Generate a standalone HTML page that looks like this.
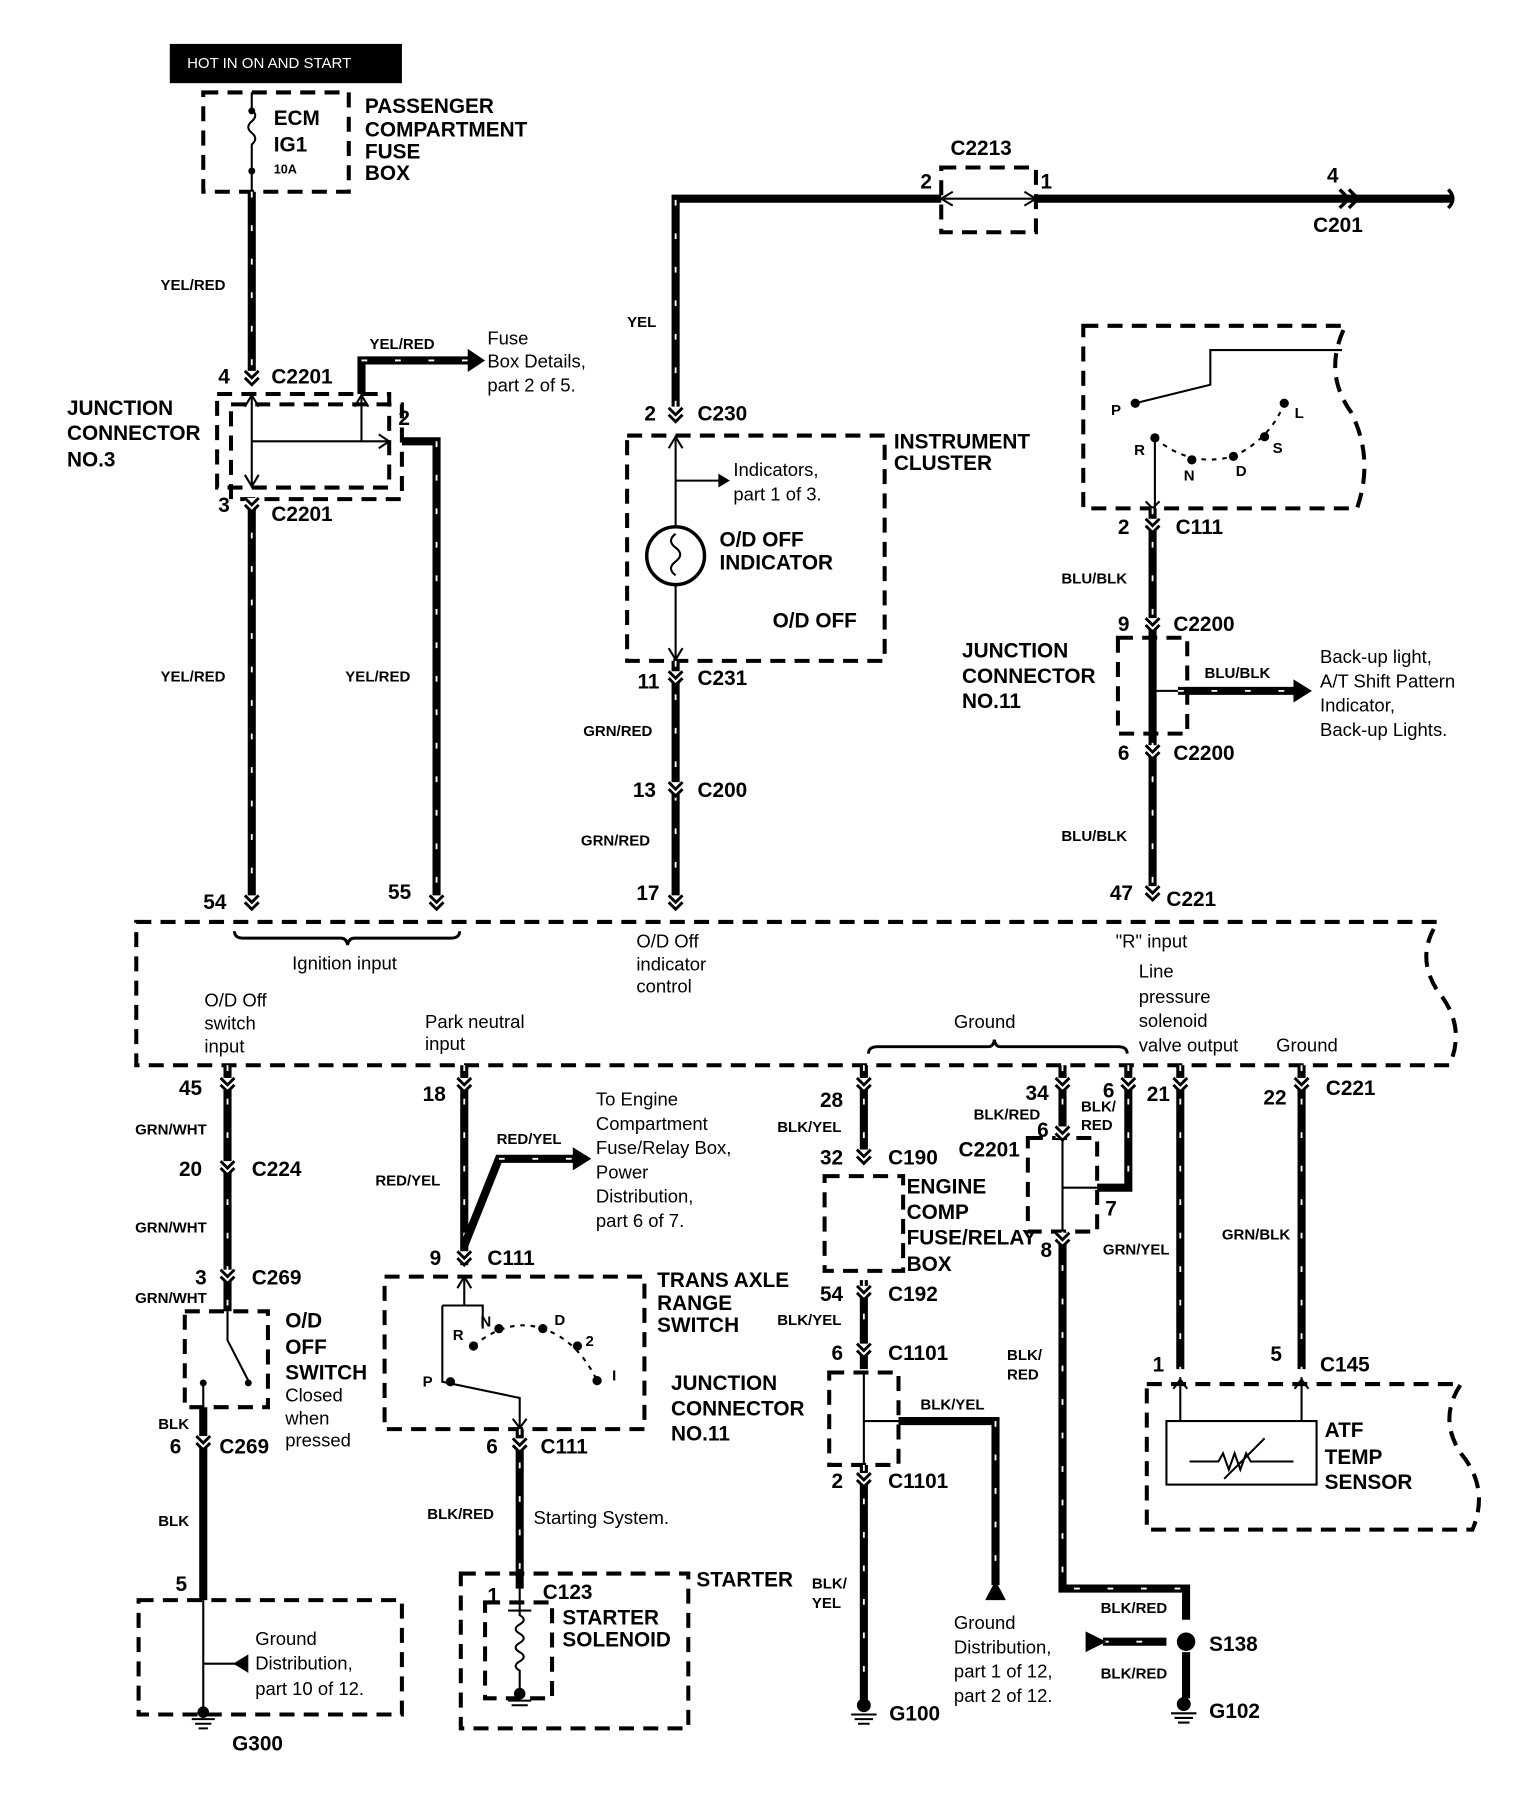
<!DOCTYPE html>
<html><head><meta charset="utf-8"><style>
html,body{margin:0;padding:0;background:#fff}
svg{display:block}
.w{stroke:#000;stroke-width:7;fill:none}
.h{stroke:#fff;stroke-width:1.6;stroke-dasharray:5 24;fill:none}
.t{stroke:#000;stroke-width:1.8;fill:none}
.d{stroke:#000;stroke-width:3.5;stroke-dasharray:13 8;fill:none}
text{font-family:"Liberation Sans",sans-serif;fill:#000}
.b{font-size:18px;font-weight:bold}
.s{font-size:13px;font-weight:bold}
.n{font-size:16px}
</style></head><body>
<svg width="1536" height="1800" viewBox="0 0 1330 1558" preserveAspectRatio="none" xmlns="http://www.w3.org/2000/svg">
<defs>
<g id="cn"><rect x="-6" y="-5" width="12" height="10" fill="#fff"/><path d="M-6,-5 L0,1 L6,-5 M-6,1 L0,7 L6,1" stroke="#000" stroke-width="2.5" fill="none"/></g>
</defs>
<rect width="1330" height="1558" fill="#fff"/>
<!-- top hot -->
<rect x="147" y="38" width="201" height="34" fill="#000"/>
<text x="162" y="59" fill="#fff" style="fill:#fff;font-size:13px">HOT IN ON AND START</text>
<rect class="d" x="176" y="80" width="126" height="86"/>
<path class="t" d="M218,80 V95 q6,5 0,10 q-6,5 0,10 q6,5 0,10 V166"/>
<circle cx="218" cy="96" r="3"/><circle cx="218" cy="148" r="3"/>
<text class="b" x="237" y="108">ECM</text><text class="b" x="237" y="131">IG1</text><text class="s" x="237" y="150" style="font-size:11px">10A</text>
<text class="b" x="316" y="98">PASSENGER</text><text class="b" x="316" y="118">COMPARTMENT</text><text class="b" x="316" y="137">FUSE</text><text class="b" x="316" y="156">BOX</text>
<g><path class="w" d="M218,166 V322"/><path class="h" d="M218,166 V322"/></g>
<text class="s" x="139" y="251">YEL/RED</text>
<text class="b" x="189" y="332">4</text><text class="b" x="235" y="332">C2201</text>
<rect class="d" x="188" y="341" width="149" height="81"/>
<rect class="d" x="200" y="350" width="148" height="82"/>
<path class="t" d="M218,341 V422 M218,382 H337 M313,341 V382" />
<path d="M212,352 L218,342 L224,352 M212,411 L218,421 L224,411 M307,352 L313,342 L319,352 M328,376 L337,382 L328,388" class="t"/>
<g><path class="w" d="M313,341 V312 H410"/><path class="h" d="M313,312 H410"/></g>
<path d="M405,302 L420,312 L405,322z"/>
<text class="s" x="320" y="302">YEL/RED</text>
<text class="n" x="422" y="298">Fuse</text><text class="n" x="422" y="318">Box Details,</text><text class="n" x="422" y="339">part 2 of 5.</text>
<text class="b" x="345" y="368">2</text>
<g><path class="w" d="M348,382 H378 V785"/><path class="h" d="M378,382 V785"/></g>
<text class="b" x="58" y="359">JUNCTION</text><text class="b" x="58" y="381">CONNECTOR</text><text class="b" x="58" y="404">NO.3</text>
<text class="b" x="189" y="443">3</text><text class="b" x="235" y="451">C2201</text>
<g><path class="w" d="M218,432 V785"/><path class="h" d="M218,432 V785"/></g>
<text class="s" x="139" y="590">YEL/RED</text><text class="s" x="299" y="590">YEL/RED</text>
<text class="b" x="176" y="787">54</text><text class="b" x="336" y="778">55</text>
<!-- ECM box -->
<path class="d" d="M118,798 H1245 q-20,30 0,60 q25,30 10,64 H118 Z"/>
<path class="t" style="stroke-width:2.5" d="M203,806 q0,6 8,6 H295 q5,0 6,6 q1,-6 6,-6 H390 q8,0 8,-6"/>
<text class="n" x="253" y="839">Ignition input</text>
<text class="n" x="177" y="871">O/D Off</text><text class="n" x="177" y="891">switch</text><text class="n" x="177" y="911">input</text>
<text class="n" x="368" y="890">Park neutral</text><text class="n" x="368" y="909">input</text>
<text class="n" x="551" y="820">O/D Off</text><text class="n" x="551" y="840">indicator</text><text class="n" x="551" y="859">control</text>
<text class="n" x="966" y="820">"R" input</text>
<text class="n" x="986" y="846">Line</text><text class="n" x="986" y="868">pressure</text><text class="n" x="986" y="889">solenoid</text><text class="n" x="986" y="910">valve output</text><text class="n" x="1105" y="910">Ground</text>
<text class="n" x="826" y="890">Ground</text>
<path class="t" style="stroke-width:2.5" d="M752,912 q0,-6 8,-6 H856 q4,0 5,-6 q1,6 5,6 H968 q8,0 8,6"/>
<!-- top YEL -->
<g><path class="w" d="M585,352 V172 H815"/><path class="h" d="M585,352 V172"/></g>
<rect class="d" x="815" y="145" width="82" height="56"/>
<path class="t" d="M815,172 H897"/><path class="t" d="M825,166 L815,172 L825,178 M887,166 L897,172 L887,178"/>
<path class="w" d="M897,172 H1258"/>
<path class="t" style="stroke-width:3" d="M1160,164 L1168,172 L1160,180 M1168,164 L1176,172 L1168,180 M1254,164 Q1262,172 1254,180"/>
<text class="b" x="823" y="134">C2213</text><text class="b" x="797" y="163">2</text><text class="b" x="901" y="163">1</text>
<text class="b" x="1149" y="158">4</text><text class="b" x="1137" y="201">C201</text>
<text class="s" x="543" y="283">YEL</text>
<text class="b" x="558" y="364">2</text><text class="b" x="604" y="364">C230</text>
<rect class="d" x="543" y="377" width="223" height="195"/>
<path class="t" d="M585,377 V456 M585,506 V572 M585,416 H628"/>
<path d="M622,410 L632,416 L622,422z"/>
<path class="t" d="M579,388 L585,378 L591,388 M579,561 L585,571 L591,561"/>
<circle cx="585" cy="481" r="25" class="t" style="stroke-width:3"/>
<path class="t" d="M585,462 q-8,6 0,12 q8,6 0,12 q-8,6 0,12"/>
<text class="b" x="774" y="388">INSTRUMENT</text><text class="b" x="774" y="407">CLUSTER</text>
<text class="n" x="635" y="412">Indicators,</text><text class="n" x="635" y="433">part 1 of 3.</text>
<text class="b" x="623" y="473">O/D OFF</text><text class="b" x="623" y="493">INDICATOR</text><text class="b" x="669" y="543">O/D OFF</text>
<text class="b" x="552" y="596">11</text><text class="b" x="604" y="593">C231</text>
<g><path class="w" d="M585,572 V785"/><path class="h" d="M585,572 V785"/></g>
<text class="s" x="505" y="637">GRN/RED</text><text class="b" x="548" y="690">13</text><text class="b" x="604" y="690">C200</text>
<text class="s" x="503" y="732">GRN/RED</text><text class="b" x="551" y="779">17</text>
<!-- selector -->
<path class="d" d="M938,282 H1165 q-20,40 5,75 q20,40 5,83 H938 Z"/>
<path class="t" d="M983,349 L1048,333 V303 H1162 M1000,379 V440"/>
<path class="t" d="M992,434 L998,440 L1004,434"/>
<path class="t" style="stroke-dasharray:4 5" d="M1000,379 Q1030,405 1068,395 Q1100,380 1112,349"/>
<circle cx="983" cy="349" r="4"/><circle cx="1000" cy="379" r="4"/><circle cx="1032" cy="398" r="4"/><circle cx="1068" cy="395" r="4"/><circle cx="1095" cy="378" r="4"/><circle cx="1112" cy="349" r="4"/>
<text class="s" x="962" y="359">P</text><text class="s" x="982" y="394">R</text><text class="s" x="1025" y="416">N</text><text class="s" x="1070" y="412">D</text><text class="s" x="1102" y="392">S</text><text class="s" x="1121" y="362">L</text>
<text class="b" x="968" y="462">2</text><text class="b" x="1018" y="462">C111</text>
<g><path class="w" d="M998,440 V770"/><path class="h" d="M998,440 V770"/></g>
<text class="s" x="919" y="505">BLU/BLK</text><text class="b" x="968" y="546">9</text><text class="b" x="1016" y="546">C2200</text>
<rect class="d" x="968" y="552" width="60" height="83"/>
<path class="t" d="M998,552 V635 M998,598 H1020"/>
<g><path class="w" d="M1020,598 H1125"/><path class="h" d="M1020,598 H1125"/></g>
<path d="M1120,588 L1136,598 L1120,608z"/>
<text class="s" x="1043" y="587">BLU/BLK</text>
<text class="n" x="1143" y="574">Back-up light,</text><text class="n" x="1143" y="595">A/T Shift Pattern</text><text class="n" x="1143" y="616">Indicator,</text><text class="n" x="1143" y="637">Back-up Lights.</text>
<text class="b" x="833" y="569">JUNCTION</text><text class="b" x="833" y="591">CONNECTOR</text><text class="b" x="833" y="613">NO.11</text>
<text class="b" x="968" y="658">6</text><text class="b" x="1016" y="658">C2200</text>
<text class="s" x="919" y="728">BLU/BLK</text><text class="b" x="961" y="779">47</text><text class="b" x="1010" y="784">C221</text>
<!-- bottom left -->
<g><path class="w" d="M197,922 V1135"/><path class="h" d="M197,922 V1135"/></g>
<text class="b" x="155" y="948">45</text><text class="s" x="117" y="982">GRN/WHT</text>
<text class="b" x="155" y="1018">20</text><text class="b" x="218" y="1018">C224</text>
<text class="s" x="117" y="1067">GRN/WHT</text><text class="b" x="169" y="1112">3</text><text class="b" x="218" y="1112">C269</text><text class="s" x="117" y="1128">GRN/WHT</text>
<rect class="d" x="160" y="1135" width="72" height="83"/>
<path class="t" d="M197,1135 V1160 L215,1195 M176,1197 V1218"/><circle cx="176" cy="1197" r="3"/><circle cx="215" cy="1197" r="3"/>
<text class="b" x="247" y="1149">O/D</text><text class="b" x="247" y="1172">OFF</text><text class="b" x="247" y="1194">SWITCH</text>
<text class="n" x="247" y="1213">Closed</text><text class="n" x="247" y="1233">when</text><text class="n" x="247" y="1252">pressed</text>
<text class="s" x="137" y="1237">BLK</text><text class="b" x="147" y="1258">6</text><text class="b" x="190" y="1258">C269</text>
<path class="w" d="M176,1218 V1385"/>
<text class="s" x="137" y="1321">BLK</text><text class="b" x="152" y="1377">5</text>
<rect class="d" x="120" y="1385" width="228" height="99"/>
<path class="t" d="M176,1385 V1478 M176,1440 H205"/><path d="M215,1432 L202,1440 L215,1448z"/>
<circle cx="176" cy="1482" r="5"/><path class="t" d="M166,1488 H186 M169,1492 H183 M172,1496 H180"/>
<text class="n" x="221" y="1424">Ground</text><text class="n" x="221" y="1445">Distribution,</text><text class="n" x="221" y="1467">part 10 of 12.</text>
<text class="b" x="201" y="1515">G300</text>
<!-- park neutral -->
<g><path class="w" d="M402,922 V1095"/><path class="h" d="M402,922 V1095"/></g>
<g><path class="w" d="M402,1078 L432,1003 H500"/><path class="h" d="M432,1003 H500"/></g>
<path d="M496,993 L512,1003 L496,1013z"/>
<text class="b" x="366" y="953">18</text><text class="s" x="325" y="1026">RED/YEL</text><text class="s" x="430" y="990">RED/YEL</text>
<text class="n" x="516" y="957">To Engine</text><text class="n" x="516" y="978">Compartment</text><text class="n" x="516" y="999">Fuse/Relay Box,</text><text class="n" x="516" y="1020">Power</text><text class="n" x="516" y="1041">Distribution,</text><text class="n" x="516" y="1062">part 6 of 7.</text>
<text class="b" x="372" y="1095">9</text><text class="b" x="422" y="1095">C111</text>
<rect class="d" x="333" y="1105" width="225" height="132"/>
<path class="t" d="M402,1105 V1130 M383,1130 H418 V1150 M383,1130 V1196 L450,1210 V1237"/>
<path class="t" d="M396,1115 L402,1105 L408,1115 M444,1228 L450,1236 L456,1228"/>
<path class="t" style="stroke-dasharray:4 5" d="M410,1165 Q440,1140 470,1150 Q500,1160 517,1195"/>
<circle cx="432" cy="1150" r="4"/><circle cx="410" cy="1165" r="4"/><circle cx="470" cy="1150" r="4"/><circle cx="500" cy="1165" r="4"/><circle cx="517" cy="1195" r="4"/><circle cx="390" cy="1196" r="4"/>
<text class="s" x="416" y="1148">N</text><text class="s" x="392" y="1160">R</text><text class="s" x="480" y="1147">D</text><text class="s" x="507" y="1165">2</text><text class="s" x="530" y="1195">I</text><text class="s" x="366" y="1200">P</text>
<text class="b" x="569" y="1114">TRANS AXLE</text><text class="b" x="569" y="1134">RANGE</text><text class="b" x="569" y="1153">SWITCH</text>
<text class="b" x="421" y="1258">6</text><text class="b" x="468" y="1258">C111</text>
<g><path class="w" d="M450,1237 V1375"/><path class="h" d="M450,1237 V1375"/></g>
<text class="s" x="370" y="1315">BLK/RED</text><text class="n" x="462" y="1319">Starting System.</text>
<rect class="d" x="399" y="1362" width="197" height="134"/>
<rect class="d" x="420" y="1387" width="58" height="83"/>
<path class="t" d="M450,1375 V1398 q7,4 0,8 q-7,4 0,8 q7,4 0,8 q-7,4 0,8 q7,4 0,8 q-7,4 0,8 V1462 M440,1394 H460"/>
<circle cx="450" cy="1466" r="5"/><path class="t" d="M440,1472 H460 M443,1476 H457"/>
<text class="b" x="603" y="1373">STARTER</text><text class="b" x="422" y="1387">1</text><text class="b" x="470" y="1384">C123</text>
<text class="b" x="487" y="1406">STARTER</text><text class="b" x="487" y="1425">SOLENOID</text>
<!-- engine comp -->
<g><path class="w" d="M748,922 V1005"/><path class="h" d="M748,922 V1005"/></g>
<text class="b" x="710" y="958">28</text><text class="s" x="673" y="980">BLK/YEL</text><text class="b" x="710" y="1008">32</text><text class="b" x="769" y="1008">C190</text>
<rect class="d" x="714" y="1018" width="68" height="82"/>
<text class="b" x="785" y="1033">ENGINE</text><text class="b" x="785" y="1055">COMP</text><text class="b" x="785" y="1077">FUSE/RELAY</text><text class="b" x="785" y="1100">BOX</text>
<text class="b" x="710" y="1126">54</text><text class="b" x="769" y="1126">C192</text>
<g><path class="w" d="M748,1108 V1185"/><path class="h" d="M748,1108 V1185"/></g>
<text class="s" x="673" y="1147">BLK/YEL</text><text class="b" x="720" y="1177">6</text><text class="b" x="769" y="1177">C1101</text>
<rect class="d" x="718" y="1188" width="60" height="80"/>
<path class="t" d="M748,1188 V1268 M748,1230 H778"/>
<g><path class="w" d="M778,1230 H862 V1372"/><path class="h" d="M862,1230 V1372"/></g>
<path d="M853,1385 L862,1368 L871,1385z"/>
<text class="s" x="797" y="1220">BLK/YEL</text>
<text class="b" x="581" y="1203">JUNCTION</text><text class="b" x="581" y="1225">CONNECTOR</text><text class="b" x="581" y="1247">NO.11</text>
<text class="b" x="720" y="1288">2</text><text class="b" x="769" y="1288">C1101</text>
<g><path class="w" d="M748,1268 V1475"/><path class="h" d="M748,1268 V1475"/></g>
<circle cx="748" cy="1476" r="6"/><path class="t" d="M737,1484 H759 M740,1488 H756 M743,1492 H753"/>
<text class="b" x="770" y="1489">G100</text><text class="s" x="703" y="1375">BLK/</text><text class="s" x="703" y="1392">YEL</text>
<text class="n" x="826" y="1410">Ground</text><text class="n" x="826" y="1431">Distribution,</text><text class="n" x="826" y="1452">part 1 of 12,</text><text class="n" x="826" y="1473">part 2 of 12.</text>
<!-- C2201 right -->
<g><path class="w" d="M920,922 V985"/><path class="h" d="M920,922 V985"/></g>
<g><path class="w" d="M977,922 V1028 H950"/><path class="h" d="M977,922 V1028"/></g>
<text class="b" x="888" y="952">34</text><text class="s" x="843" y="969">BLK/RED</text><text class="b" x="955" y="950">6</text>
<text class="s" x="936" y="962">BLK/</text><text class="s" x="936" y="978">RED</text>
<text class="b" x="830" y="1001">C2201</text><text class="b" x="898" y="984">6</text>
<rect class="d" x="890" y="985" width="60" height="81"/>
<path class="t" d="M920,985 V1066 M920,1028 H950"/>
<text class="b" x="957" y="1052">7</text><text class="b" x="901" y="1088">8</text>
<g><path class="w" d="M920,1066 V1375 H1027 V1402"/><path class="h" d="M920,1066 V1375 H1027"/></g>
<text class="s" x="872" y="1177">BLK/</text><text class="s" x="872" y="1194">RED</text>
<text class="s" x="953" y="1396">BLK/RED</text>
<circle cx="1027" cy="1421" r="8"/>
<g><path class="w" d="M955,1421 H1010"/><path class="h" d="M955,1421 H1010"/></g>
<path d="M940,1412 L958,1421 L940,1430z"/>
<path class="w" d="M1027,1430 V1470"/>
<text class="s" x="953" y="1453">BLK/RED</text>
<circle cx="1025" cy="1475" r="6"/><path class="t" d="M1014,1483 H1036 M1017,1487 H1033 M1020,1491 H1030"/>
<text class="b" x="1047" y="1429">S138</text><text class="b" x="1047" y="1487">G102</text>
<!-- ATF -->
<g><path class="w" d="M1022,922 V1185"/><path class="h" d="M1022,922 V1185"/></g>
<g><path class="w" d="M1127,922 V1185"/><path class="h" d="M1127,922 V1185"/></g>
<text class="b" x="993" y="953">21</text><text class="s" x="955" y="1086">GRN/YEL</text>
<text class="b" x="1094" y="956">22</text><text class="b" x="1148" y="948">C221</text><text class="s" x="1058" y="1073">GRN/BLK</text>
<text class="b" x="998" y="1187">1</text><text class="b" x="1100" y="1178">5</text><text class="b" x="1143" y="1187">C145</text>
<path class="d" d="M993,1198 H1265 q-20,30 0,60 q25,30 10,66 H993 Z"/>
<rect class="t" x="1010" y="1230" width="130" height="55"/>
<path class="t" d="M1022,1192 V1230 M1127,1192 V1230 M1030,1265 H1055 l4,-7 l5,14 l5,-14 l5,14 l5,-14 l4,7 H1120 M1060,1280 L1095,1245"/>
<path class="t" d="M1016,1202 L1022,1194 L1028,1202 M1121,1202 L1127,1194 L1133,1202"/>
<text class="b" x="1147" y="1244">ATF</text><text class="b" x="1147" y="1267">TEMP</text><text class="b" x="1147" y="1289">SENSOR</text>
<!-- connector marks -->
<use href="#cn" x="218" y="436"/><use href="#cn" x="218" y="326"/>
<use href="#cn" x="585" y="586"/><use href="#cn" x="585" y="682"/><use href="#cn" x="585" y="358"/>
<use href="#cn" x="998" y="454"/><use href="#cn" x="998" y="540"/><use href="#cn" x="998" y="650"/>
<use href="#cn" x="197" y="1010"/><use href="#cn" x="197" y="1104"/><use href="#cn" x="176" y="1248"/>
<use href="#cn" x="402" y="1088"/><use href="#cn" x="450" y="1250"/>
<use href="#cn" x="748" y="1000"/><use href="#cn" x="748" y="1118"/><use href="#cn" x="748" y="1168"/><use href="#cn" x="748" y="1280"/>
<use href="#cn" x="218" y="780"/><use href="#cn" x="378" y="780"/><use href="#cn" x="585" y="780"/><use href="#cn" x="998" y="772"/>
<use href="#cn" x="197" y="938"/><use href="#cn" x="402" y="938"/><use href="#cn" x="748" y="938"/><use href="#cn" x="920" y="938"/><use href="#cn" x="977" y="938"/><use href="#cn" x="1022" y="938"/><use href="#cn" x="1127" y="938"/>
<use href="#cn" x="920" y="980"/><use href="#cn" x="920" y="1072"/>
</svg>
</body></html>
